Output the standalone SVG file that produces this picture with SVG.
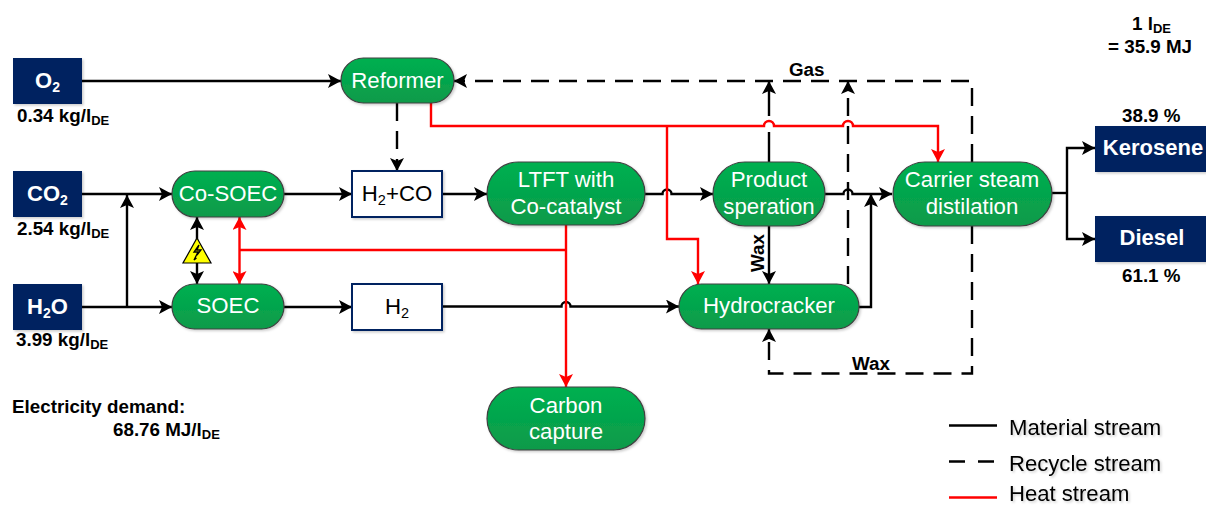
<svg xmlns="http://www.w3.org/2000/svg" width="1206" height="506" viewBox="0 0 1206 506">
<style>
text{font-family:"Liberation Sans",Arial,sans-serif}
.node{fill:url(#g);stroke:#404040;stroke-width:1.2;filter:url(#s)}
.nt{fill:#fff;font-size:22.2px;text-anchor:middle}
.src{fill:#002060;filter:url(#s)}
.st{fill:#fff;font-size:22px;font-weight:bold;text-anchor:middle}
.box{fill:#fff;stroke:#002060;stroke-width:2;filter:url(#s)}
.bt{fill:#000;font-size:22.2px;text-anchor:middle}
.lb{fill:#000;font-size:18.8px;font-weight:bold}
.leg{fill:#000;font-size:22.1px;filter:url(#s)}
.k,.d,.r{fill:none;stroke-width:2.4}
.k{stroke:#000}
.d{stroke:#000;stroke-dasharray:18 10}
.r{stroke:#f00}
.ka{marker-end:url(#ak)}
.ra{marker-end:url(#ar)}
</style>
<defs>
<linearGradient id="g" x1="0" y1="0" x2="0" y2="1"><stop offset="0" stop-color="#00b050"/><stop offset="1" stop-color="#0b9a4a"/></linearGradient>
<filter id="s" x="-10%" y="-10%" width="125%" height="130%"><feDropShadow dx="1.5" dy="1.5" stdDeviation="1" flood-color="#000" flood-opacity="0.2"/></filter>
<marker id="ak" markerUnits="userSpaceOnUse" markerWidth="14" markerHeight="14" refX="13" refY="7" orient="auto"><path d="M0 0L13 7L0 14L3 7Z" fill="#000"/></marker>
<marker id="ar" markerUnits="userSpaceOnUse" markerWidth="14" markerHeight="14" refX="13" refY="7" orient="auto"><path d="M0 0L13 7L0 14L3 7Z" fill="#f00"/></marker>
<marker id="akb" markerUnits="userSpaceOnUse" markerWidth="14" markerHeight="14" refX="13" refY="7" orient="auto-start-reverse"><path d="M0 0L13 7L0 14L3 7Z" fill="#000"/></marker>
<marker id="arb" markerUnits="userSpaceOnUse" markerWidth="14" markerHeight="14" refX="13" refY="7" orient="auto-start-reverse"><path d="M0 0L13 7L0 14L3 7Z" fill="#f00"/></marker>
</defs>

<g id="connectors">
<path class="k ka" d="M82 81H341"/>
<path class="k ka" d="M82 194H172"/>
<path class="k ka" d="M82 307H172"/>
<path class="k ka" d="M127 307V195"/>
<path class="k ka" d="M284 194H352"/>
<path class="k ka" d="M284 307H352"/>
<path class="k ka" d="M442 194H487"/>
<path class="k ka" d="M442 306.500H561.500a4.500 4.500 0 0 1 9 0H679"/>
<path class="k ka" d="M645 194H662.500a4.500 4.500 0 0 1 9 0H713"/>
<path class="k ka" d="M825 194H843.500a4.500 4.500 0 0 1 9 0H892"/>
<path class="k ka" d="M769 226V284"/>
<path class="k ka" d="M859 307H871V194"/>
<path class="k" d="M1052 193H1067"/>
<path class="k ka" d="M1067 193V148H1095"/>
<path class="k ka" d="M1067 193V239H1095"/>
<path class="k" style="marker-start:url(#akb);marker-end:url(#akb)" d="M197 217V284"/>
<path class="d ka" d="M972 162V81H454"/>
<path class="d ka" d="M397 103V171"/>
<path class="d" style="stroke-dasharray:30 10 30 10" d="M769 162V132"/>
<path class="d ka" style="stroke-dasharray:none" d="M769 116V81"/>
<path class="d ka" d="M848 284V81"/>
<path class="d ka" d="M972 226V373.500H769V329"/>
<path class="r ra" d="M431 103V126H764a5 5 0 0 1 10 0H843a5 5 0 0 1 10 0H938V162"/>
<path class="r ra" d="M667 126V239H698V284"/>
<path class="r ra" d="M566 225V387"/>
<path class="r" d="M566 250H239.500"/>
<path class="r" style="marker-start:url(#arb);marker-end:url(#arb)" d="M239.500 217V284"/>
</g>

<g id="o2"><rect class="src" x="13" y="58" width="69" height="46"/><text class="st" x="47.500" y="88">O<tspan font-size="14" dy="4">2</tspan></text></g>
<g id="co2"><rect class="src" x="13" y="171" width="69" height="46"/><text class="st" x="47.500" y="201">CO<tspan font-size="14" dy="4">2</tspan></text></g>
<g id="h2o"><rect class="src" x="13" y="284" width="69" height="46"/><text class="st" x="47.500" y="314">H<tspan font-size="14" dy="4">2</tspan><tspan dy="-4">O</tspan></text></g>

<g id="reformer"><rect class="node" x="341" y="58" width="113" height="45" rx="22.500"/><text class="nt" x="397.500" y="88">Reformer</text></g>
<g id="co-soec"><rect class="node" x="172" y="171" width="112" height="46" rx="23"/><text class="nt" x="228" y="201">Co-SOEC</text></g>
<g id="soec"><rect class="node" x="172" y="284" width="112" height="45" rx="22.500"/><text class="nt" x="228" y="313">SOEC</text></g>
<g id="h2co"><rect class="box" x="352" y="171" width="90" height="46"/><text class="bt" x="397" y="201">H<tspan font-size="14.500" dy="4">2</tspan><tspan dy="-4">+CO</tspan></text></g>
<g id="h2"><rect class="box" x="352" y="284" width="90" height="46"/><text class="bt" x="397" y="314">H<tspan font-size="14.500" dy="4">2</tspan></text></g>
<g id="ltft"><rect class="node" x="487" y="162" width="158" height="63" rx="31.500"/><text class="nt" x="566" y="187">LTFT with</text><text class="nt" x="566" y="214">Co-catalyst</text></g>
<g id="carbon-capture"><rect class="node" x="487" y="387" width="158" height="63" rx="31.500"/><text class="nt" x="566" y="413">Carbon</text><text class="nt" x="566" y="439">capture</text></g>
<g id="product"><rect class="node" x="713" y="162" width="112" height="64" rx="32"/><text class="nt" x="769" y="187">Product</text><text class="nt" x="769" y="214">speration</text></g>
<g id="carrier"><rect class="node" x="893" y="162" width="159" height="64" rx="32"/><text class="nt" x="972" y="187">Carrier steam</text><text class="nt" x="972" y="214">distilation</text></g>
<g id="hydrocracker"><rect class="node" x="679" y="284" width="180" height="45" rx="22.500"/><text class="nt" x="769" y="313">Hydrocracker</text></g>
<g id="kerosene"><rect class="src" x="1095" y="126" width="111" height="46"/><text class="st" x="1153" y="155">Kerosene</text></g>
<g id="diesel"><rect class="src" x="1095" y="216" width="111" height="46"/><text class="st" x="1152" y="245">Diesel</text></g>

<g id="electricity"><path d="M197 238L211 263H183Z" fill="#ff0" stroke="#000" stroke-width="1.200"/><path d="M199 245L194 252L198 252L194 260L196.500 258M199 245L197 250L201 250L197 255" fill="none" stroke="#000" stroke-width="1.300"/></g>

<g id="labels">
<text class="lb" x="17" y="122">0.34 kg/l<tspan font-size="13" dy="3">DE</tspan></text>
<text class="lb" x="17" y="235">2.54 kg/l<tspan font-size="13" dy="3">DE</tspan></text>
<text class="lb" x="16" y="346">3.99 kg/l<tspan font-size="13" dy="3">DE</tspan></text>
<text class="lb" x="12" y="413">Electricity demand:</text>
<text class="lb" x="113" y="436">68.76 MJ/l<tspan font-size="13" dy="3">DE</tspan></text>
<text class="lb" x="1132" y="30">1 l<tspan font-size="13" dy="3">DE</tspan></text>
<text class="lb" x="1108" y="53">= 35.9 MJ</text>
<text class="lb" x="1122" y="122">38.9 %</text>
<text class="lb" x="1122" y="282">61.1 %</text>
<text class="lb" x="789" y="76">Gas</text>
<text class="lb" x="852" y="370">Wax</text>
<text class="lb" transform="translate(764 272) rotate(-90)">Wax</text>
</g>

<g id="legend">
<path class="k" d="M949 425.500H997"/>
<path class="d" style="stroke-dasharray:16 13" d="M949 461.500H997"/>
<path class="r" d="M949 497.500H997"/>
<text class="leg" x="1009" y="435">Material stream</text>
<text class="leg" x="1009" y="471">Recycle stream</text>
<text class="leg" x="1009" y="501">Heat stream</text>
</g>
</svg>
